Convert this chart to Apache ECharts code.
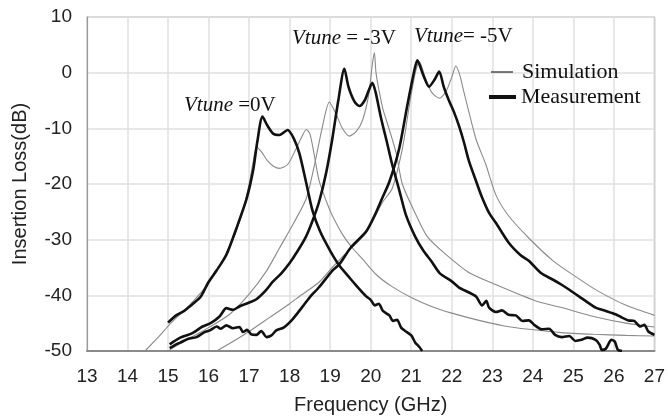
<!DOCTYPE html>
<html><head><meta charset="utf-8">
<script src="https://cdn.jsdelivr.net/npm/echarts@6/dist/echarts.min.js"></script>
<style>html,body{margin:0;padding:0;background:#fff}#c{width:668px;height:420px}</style>
</head><body><div id="c"></div>
<script>
// Axis ticks
const xTicks = {min: 13, max: 27, step: 1};
const yTicks = {min: -50, max: 10, step: 10};
const legendNames = ['Simulation', 'Measurement'];

// Simulation, Vtune = 0V
const sim0_f  = [14.43,14.8,15.04,15.5,16.0,16.5,16.8,17.0,17.1,17.18,17.3,17.45,17.6,17.75,17.95,18.15,18.3,18.41,18.5,18.6,18.73,18.9,19.05,19.3,19.55,19.8,20.14,20.5,21.0,21.5,22.0,22.67,23.3,23.9,24.7,25.5,26.3,27.0];
const sim0_db = [-50,-47.2,-45.2,-42,-37.8,-31.5,-26,-20,-16,-13.4,-14.2,-15.8,-16.8,-17.2,-16.5,-13.8,-11.5,-10.2,-11,-14.5,-19.5,-23,-25.6,-29,-31.5,-33.5,-36.3,-38.3,-40.4,-42,-43.2,-44.5,-45.5,-46.1,-46.7,-47,-47.2,-47.3];

// Measurement, Vtune = 0V
const meas0_f  = [15.0,15.2,15.4,15.5,15.6,15.8,16.0,16.2,16.44,16.69,16.94,17.1,17.2,17.33,17.45,17.6,17.75,17.95,18.1,18.24,18.4,18.56,18.75,19.0,19.23,19.45,19.65,19.89,20.0,20.1,20.2,20.3,20.46,20.55,20.65,20.75,20.85,21.0,21.1,21.19,21.27];
const meas0_db = [-44.9,-43.6,-42.8,-42.2,-41.6,-40.3,-37.6,-35.5,-32.7,-27.9,-22.6,-17.5,-12.5,-7.9,-9.5,-11.0,-11.2,-10.3,-11.8,-14.5,-19.5,-24.7,-28.5,-32.0,-34.7,-36.6,-38.3,-40.2,-40.8,-41.8,-41.5,-42.8,-43.6,-44.6,-44.4,-45.8,-46.4,-47.2,-48.5,-49.2,-50];

// Simulation, Vtune = -3V
const sim3_f  = [15.04,15.5,16.0,16.52,17.0,17.43,17.75,18.1,18.41,18.6,18.8,18.98,19.15,19.3,19.47,19.65,19.8,19.95,20.04,20.09,20.13,20.2,20.3,20.45,20.63,20.78,21.12,21.4,21.86,22.42,23.09,24.07,24.71,25.5,26.3,27.0];
const sim3_db = [-49.8,-47.8,-45.8,-43.4,-39.8,-35.6,-31.5,-27,-22.6,-17,-10,-5.3,-7.5,-10,-11.4,-10.5,-8.5,-4,1.5,3.6,0,-3,-6.5,-10,-14.5,-20,-25.6,-29.5,-32.7,-35.9,-38.1,-41.0,-42.2,-43.8,-45,-45.7];

// Measurement, Vtune = -3V
const meas3_f  = [15.04,15.3,15.6,15.85,16.05,16.27,16.44,16.6,16.76,17.0,17.18,17.4,17.58,17.8,18.0,18.2,18.4,18.56,18.73,18.9,19.05,19.2,19.35,19.45,19.6,19.72,19.85,19.95,20.04,20.12,20.25,20.4,20.53,20.7,20.87,21.1,21.3,21.51,21.7,22.0,22.18,22.4,22.6,22.75,22.85,22.92,23.09,23.24,23.4,23.58,23.75,23.9,24.05,24.22,24.4,24.55,24.71,24.9,25.05,25.2,25.35,25.55,25.65,25.7,25.8,25.94,26.02,26.1,26.2];
const meas3_db = [-48.8,-47.6,-46.8,-45.6,-45.0,-43.8,-42.3,-42.6,-42.0,-41.3,-40.7,-39.2,-37.6,-36.0,-34.2,-32.0,-29.5,-26.7,-23.1,-18,-12,-5,0.7,-2.5,-5.2,-6.0,-5.0,-3.2,-1.8,-3.5,-8,-12.5,-16.5,-21,-25.6,-29.5,-32.0,-34,-36,-37.5,-38.6,-39.4,-40.2,-41.8,-41.0,-42.2,-43.0,-42.7,-43.5,-43.6,-44.6,-44.5,-45.4,-46.1,-46.0,-47.1,-47.5,-47.3,-48.2,-48.0,-47.6,-48.0,-48.9,-49.8,-49.6,-48.0,-48.3,-49.8,-50];

// Simulation, Vtune = -5V
const sim5_f  = [16.2,16.6,17.0,17.5,18.0,18.24,18.73,19.05,19.5,19.89,20.28,20.53,20.78,20.95,21.1,21.2,21.35,21.5,21.69,21.85,22.0,22.1,22.2,22.3,22.42,22.6,22.84,23.09,23.4,23.9,24.5,25.13,25.6,26.3,27.0];
const sim5_db = [-50,-48.3,-46.5,-44,-41.5,-40.2,-37.6,-35,-31.6,-28.8,-23.4,-20.8,-13.7,-6,0,2.0,-1,-3.5,-4.6,-3.5,-0.8,1.2,-0.5,-3.5,-7.0,-12,-16.5,-22,-25.7,-29.7,-33.8,-37,-39.2,-41.8,-43.6];

// Measurement, Vtune = -5V
const meas5_f  = [15.04,15.2,15.3,15.5,15.7,15.9,16.03,16.2,16.3,16.44,16.6,16.76,16.85,16.95,17.05,17.18,17.3,17.43,17.55,17.67,17.85,18.07,18.3,18.49,18.73,19.05,19.23,19.5,19.89,20.1,20.28,20.46,20.7,20.9,21.05,21.15,21.3,21.44,21.58,21.69,21.8,21.93,22.05,22.18,22.3,22.42,22.6,22.74,22.92,23.09,23.4,23.7,23.9,24.2,24.5,24.71,24.9,25.06,25.3,25.55,25.8,26.04,26.2,26.36,26.5,26.65,26.75,26.85,27.0];
const meas5_db = [-49.5,-48.8,-48.5,-47.8,-47.5,-46.6,-46.3,-45.6,-46.0,-45.4,-45.9,-45.7,-46.6,-46.2,-47.0,-47.1,-46.4,-47.5,-47.2,-46.3,-45.8,-44.3,-42.2,-40.4,-38.5,-35.6,-34.4,-31.5,-28.5,-25.6,-22.6,-19.6,-13.7,-6,-0.5,2.2,-0.5,-2.5,-1.2,0.2,-2.5,-5,-7,-9.6,-12.5,-15.8,-19.5,-22.3,-25.2,-27,-30.5,-32.8,-33.8,-36,-37.2,-38.1,-39,-39.8,-41.0,-42.2,-42.8,-43.4,-44,-44.5,-44.6,-45.6,-45.3,-46.5,-47.1];

const zip = (f, d) => f.map((v, i) => [v, d[i]]);

const simStyle  = {color: '#8a8a8a', width: 1.1};
const measStyle = {color: '#111111', width: 2.6};

const mk = (name, f, d, st) => ({
  type: 'line', name: name, data: zip(f, d), showSymbol: false, symbol: 'none',
  smooth: 0.25, lineStyle: st, itemStyle: {color: st.color}, silent: true, animation: false
});

const chart = echarts.init(document.getElementById('c'), null, {renderer: 'canvas'});
const serif = '"Liberation Serif", "Times New Roman", serif';
const sans = '"Liberation Sans", Arial, Helvetica, sans-serif';
const vt = (txt, left, top) => ({type: 'text', left: left, top: top, z: 10,
  style: {text: txt, fontFamily: serif, fontSize: 21, fill: '#111',
    rich: {i: {fontFamily: serif, fontStyle: 'italic', fontSize: 21, fill: '#111'}}}});

chart.setOption({
  animation: false,
  backgroundColor: '#ffffff',
  grid: {left: 87, right: 12, top: 17, bottom: 66, show: true, borderColor: '#9a9a9a', borderWidth: 1.2, backgroundColor: '#fff'},
  xAxis: {
    type: 'value', min: xTicks.min, max: xTicks.max, interval: xTicks.step,
    name: 'Frequency (GHz)', nameLocation: 'middle', nameGap: 44,
    nameTextStyle: {fontFamily: sans, fontSize: 20, color: '#222'},
    axisLine: {show: true, onZero: false, lineStyle: {color: '#8a8a8a', width: 2}},
    axisTick: {show: false},
    axisLabel: {fontFamily: sans, fontSize: 19, color: '#222', margin: 16},
    splitLine: {show: true, lineStyle: {color: '#e0e0e0', width: 1.5}}
  },
  yAxis: {
    type: 'value', min: yTicks.min, max: yTicks.max, interval: yTicks.step,
    name: 'Insertion Loss(dB)', nameLocation: 'middle', nameGap: 57,
    nameTextStyle: {fontFamily: sans, fontSize: 20, color: '#222'},
    axisLine: {show: true, onZero: false, lineStyle: {color: '#9a9a9a', width: 1.2}},
    axisTick: {show: false},
    axisLabel: {fontFamily: sans, fontSize: 19, color: '#222', margin: 15},
    splitLine: {show: true, lineStyle: {color: '#e0e0e0', width: 1.5}}
  },
  graphic: [
    vt('{i|Vtune} =0V', 184, 95),
    vt('{i|Vtune} = -3V', 292, 28),
    vt('{i|Vtune}= -5V', 414, 26),
    // legend
    {type: 'line', z: 10, shape: {x1: 491, y1: 72, x2: 513, y2: 72}, style: {stroke: '#222', lineWidth: 1.2}},
    {type: 'line', z: 10, shape: {x1: 489, y1: 97, x2: 516, y2: 97}, style: {stroke: '#111', lineWidth: 4}},
    {type: 'text', z: 10, left: 522, top: 61, style: {text: legendNames[0], fontFamily: serif, fontSize: 22, fill: '#111'}},
    {type: 'text', z: 10, left: 521, top: 86, style: {text: legendNames[1], fontFamily: serif, fontSize: 22, fill: '#111'}}
  ],
  series: [
    mk(legendNames[0], sim0_f, sim0_db, simStyle),
    mk(legendNames[0], sim3_f, sim3_db, simStyle),
    mk(legendNames[0], sim5_f, sim5_db, simStyle),
    mk(legendNames[1], meas0_f, meas0_db, measStyle),
    mk(legendNames[1], meas3_f, meas3_db, measStyle),
    mk(legendNames[1], meas5_f, meas5_db, measStyle)
  ]
});
</script>
</body></html>
